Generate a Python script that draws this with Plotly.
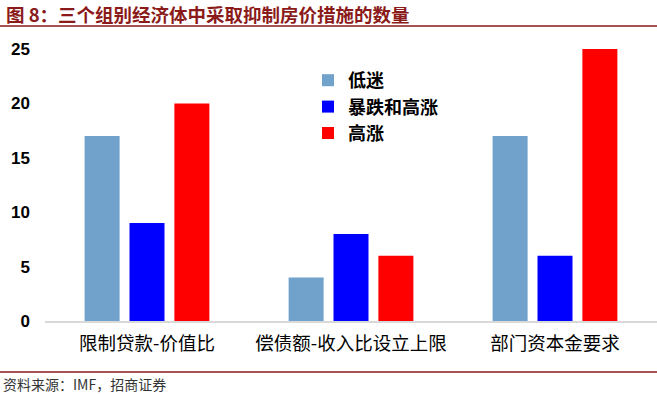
import plotly.graph_objects as go

categories = ["限制贷款-价值比", "偿债额-收入比设立上限", "部门资本金要求"]
series_names = ["低迷", "暴跌和高涨", "高涨"]
low_values = [17, 4, 17]
bust_boom_values = [9, 8, 6]
boom_values = [20, 6, 25]
y_ticks = [0, 5, 10, 15, 20, 25]

colors = ["#70A2CC", "#0000FF", "#FF0000"]
all_values = [low_values, bust_boom_values, boom_values]

W, H = 657, 395
ML, MR, MT, MB = 45, 0, 49, 74
PW = W - ML - MR
PH = H - MT - MB

def px_x(x):
    return (x - ML) / PW

def px_y(y):
    return (H - MB - y) / PH

fig = go.Figure()
for name, vals, col in zip(series_names, all_values, colors):
    fig.add_trace(go.Bar(x=categories, y=vals, name=name, marker_color=col,
                         marker_line_width=0))

fig.update_layout(
    width=W, height=H,
    margin=dict(l=ML, r=MR, t=MT, b=MB, autoexpand=False),
    plot_bgcolor="white", paper_bgcolor="white",
    barmode="group", bargap=0.34, bargroupgap=0.22,
    font=dict(family="Liberation Sans, Noto Sans CJK SC", color="black"),
    showlegend=True,
    legend=dict(x=px_x(308), y=px_y(62), xanchor="left", yanchor="top",
                font=dict(size=18, family="Liberation Sans, Noto Sans CJK SC", weight="bold"),
                bgcolor="rgba(0,0,0,0)", tracegroupgap=0),
    xaxis=dict(showline=True, linecolor="#D9D9D9", linewidth=1.5, ticks="",
               showgrid=False, automargin=False,
               tickfont=dict(size=18.5, family="Noto Sans CJK SC", color="black"),
               ticklabelstandoff=5),
    yaxis=dict(range=[0, 25], tickvals=y_ticks, showgrid=False, zeroline=False,
               showline=False, ticks="", automargin=False,
               tickfont=dict(size=17, family="Liberation Sans", weight="bold", color="black"),
               ticklabelstandoff=14),
)

title_color = "#8B1A1A"
fig.add_annotation(text="图 8：三个组别经济体中采取抑制房价措施的数量", xref="paper", yref="paper",
                   x=px_x(4), y=px_y(14), xanchor="left", yanchor="middle", showarrow=False,
                   font=dict(size=18.5, family="Noto Sans CJK SC", color=title_color, weight="bold"))
fig.add_shape(type="line", xref="paper", yref="paper", x0=px_x(0), x1=px_x(W), y0=px_y(26), y1=px_y(26),
              line=dict(color=title_color, width=1.5))
fig.add_shape(type="line", xref="paper", yref="paper", x0=px_x(0), x1=px_x(W), y0=px_y(372), y1=px_y(372),
              line=dict(color=title_color, width=1.5))
fig.add_annotation(text="资料来源：IMF，招商证券", xref="paper", yref="paper",
                   x=px_x(1), y=px_y(384), xanchor="left", yanchor="middle", showarrow=False,
                   font=dict(size=14, family="Noto Sans CJK SC", color="#333333"))

fig.write_html("out.html", config={"displayModeBar": False},
               post_script="document.body.style.margin='0';")
